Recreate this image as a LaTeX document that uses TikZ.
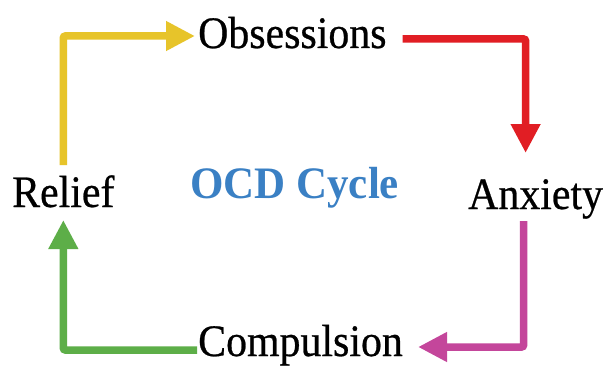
\documentclass[tikz,border=0pt]{standalone}
\usepackage{fontspec}
\setmainfont{Liberation Serif}
\newfontfamily\lblfont[FakeBold=0.6]{Liberation Serif}
\usetikzlibrary{arrows.meta}
\definecolor{cyel}{RGB}{231,196,42}
\definecolor{cred}{RGB}{225,30,36}
\definecolor{cmag}{RGB}{196,70,155}
\definecolor{cgrn}{RGB}{93,174,72}
\definecolor{cblu}{RGB}{58,128,196}
\newcommand{\lbltext}[2][0.93]{\scalebox{#1}[1]{#2}}
\begin{document}
\begin{tikzpicture}[x=1pt,y=-1pt,
  lbl/.style={inner sep=0pt,anchor=base west,font=\lblfont\fontsize{45}{50}\selectfont},
  conn/.style={line width=7.5pt,rounded corners=2pt,
    -{Triangle[length=29pt,width=28pt]}}]
\useasboundingbox[fill=white] (0,0) rectangle (603,369);
\node[lbl] (obs) at (198,48) {\lbltext{Obsessions}};
\node[lbl] (anx) at (468,209) {\lbltext{Anxiety}};
\node[lbl] (comp) at (198,356) {\lbltext{Compulsion}};
\node[lbl] (rel) at (12,207) {\lbltext{Relief}};
\node[lbl,text=cblu,font=\rmfamily\bfseries\fontsize{45}{50}\selectfont] (title) at (190,198) {\lbltext[0.955]{OCD Cycle}};
\draw[conn,cyel] ([shift={(0,-42)}]rel.base) |- ([shift={(-3,-12)}]obs.base west);
\draw[conn,cred] ([shift={(16,-9)}]obs.base east) -| ([shift={(-10,-56)}]anx.base);
\draw[conn,cmag] ([shift={(-12,12)}]anx.base) |- ([shift={(15,-9)}]comp.base east);
\draw[conn,cgrn] ([shift={(-1,-6)}]comp.base west) -| ([shift={(0,13)}]rel.base);
\end{tikzpicture}
\end{document}
